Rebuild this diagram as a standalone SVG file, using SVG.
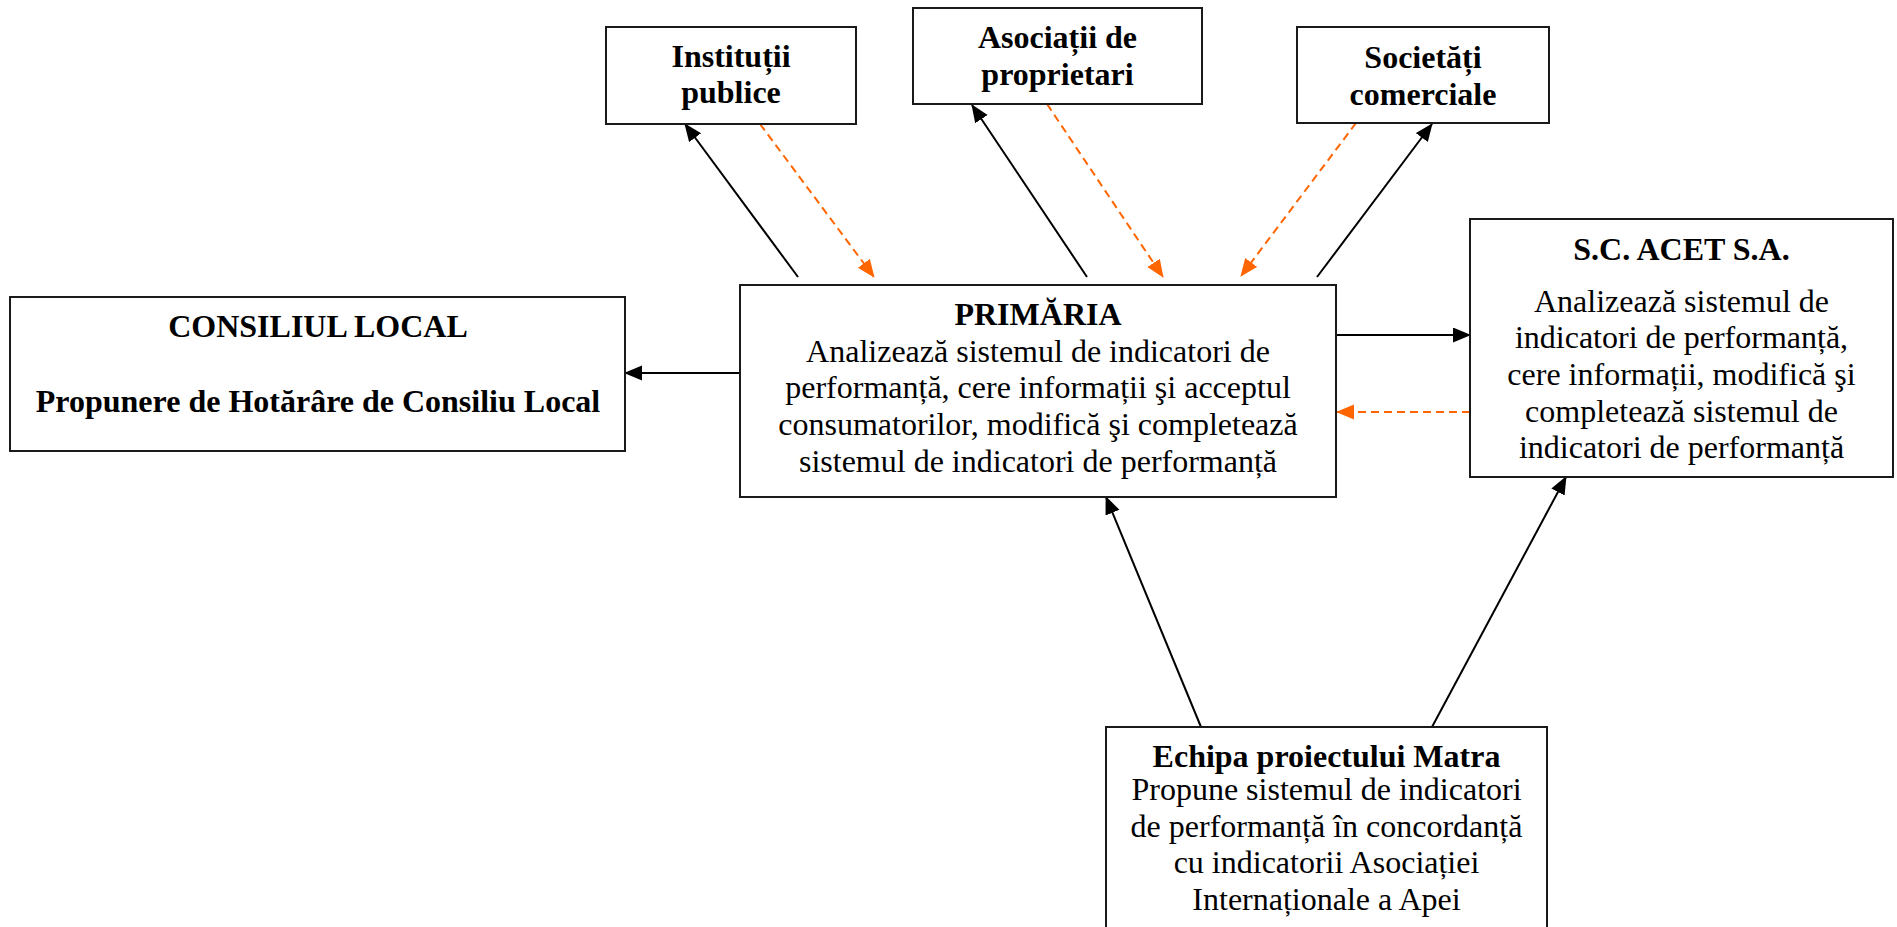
<svg xmlns="http://www.w3.org/2000/svg" width="1897" height="927" viewBox="0 0 1897 927">
<style>
.box{fill:#fff;stroke:#1a1a1a;stroke-width:2}
text{font-family:"Liberation Serif","Times New Roman",serif;font-size:32px;fill:#000;text-anchor:middle}
.b{font-weight:bold}
.blk{stroke:#000;stroke-width:2;fill:none}
.org{stroke:#FF6600;stroke-width:2;fill:none;stroke-dasharray:8 5}
</style>
<defs>
<marker id="ab" markerUnits="userSpaceOnUse" markerWidth="18" markerHeight="16" refX="17" refY="7.5" orient="auto">
<path d="M0,0 L18,7.5 L0,15 z" fill="#000"/>
</marker>
<marker id="ao" markerUnits="userSpaceOnUse" markerWidth="18" markerHeight="16" refX="17" refY="7.5" orient="auto">
<path d="M0,0 L18,7.5 L0,15 z" fill="#FF6600"/>
</marker>
</defs>
<rect width="1897" height="927" fill="#fff"/>
<g id="connectors">
<line class="blk" x1="798" y1="277" x2="685" y2="124" marker-end="url(#ab)"/>
<line class="org" x1="760" y1="124" x2="874" y2="277" marker-end="url(#ao)"/>
<line class="blk" x1="1087" y1="277" x2="972" y2="105" marker-end="url(#ab)"/>
<line class="org" x1="1047" y1="104" x2="1163" y2="277" marker-end="url(#ao)"/>
<line class="blk" x1="1317" y1="277" x2="1432" y2="124" marker-end="url(#ab)"/>
<line class="org" x1="1356" y1="123" x2="1241" y2="276" marker-end="url(#ao)"/>
<line class="blk" x1="740" y1="373" x2="625" y2="373" marker-end="url(#ab)"/>
<line class="blk" x1="1336" y1="335" x2="1470" y2="335" marker-end="url(#ab)"/>
<line class="org" x1="1470" y1="412" x2="1337" y2="412" marker-end="url(#ao)"/>
<line class="blk" x1="1201" y1="727" x2="1106" y2="497" marker-end="url(#ab)"/>
<line class="blk" x1="1432" y1="727" x2="1566" y2="477" marker-end="url(#ab)"/>
</g>
<g id="institutii">
<rect class="box" x="606" y="27" width="250" height="97"/>
<text class="b" x="731" y="67">Instituții</text>
<text class="b" x="731" y="103">publice</text>
</g>
<g id="asociatii">
<rect class="box" x="913" y="8" width="289" height="96"/>
<text class="b" x="1057.5" y="48">Asociații de</text>
<text class="b" x="1057.5" y="85">proprietari</text>
</g>
<g id="societati">
<rect class="box" x="1297" y="27" width="252" height="96"/>
<text class="b" x="1423" y="68">Societăți</text>
<text class="b" x="1423" y="105">comerciale</text>
</g>
<g id="consiliu">
<rect class="box" x="10" y="297" width="615" height="154"/>
<text class="b" x="318" y="337">CONSILIUL LOCAL</text>
<text class="b" x="318" y="412">Propunere de Hotărâre de Consiliu Local</text>
</g>
<g id="primaria">
<rect class="box" x="740" y="285" width="596" height="212"/>
<text class="b" x="1038" y="325">PRIMĂRIA</text>
<text x="1038" y="362">Analizează sistemul de indicatori de</text>
<text x="1038" y="398">performanță, cere informații şi acceptul</text>
<text x="1038" y="435">consumatorilor, modifică şi completează</text>
<text x="1038" y="472">sistemul de indicatori de performanță</text>
</g>
<g id="acet">
<rect class="box" x="1470" y="219" width="423" height="258"/>
<text class="b" x="1681.5" y="260">S.C. ACET S.A.</text>
<text x="1681.5" y="312">Analizează sistemul de</text>
<text x="1681.5" y="348">indicatori de performanță,</text>
<text x="1681.5" y="385">cere informații, modifică şi</text>
<text x="1681.5" y="422">completează sistemul de</text>
<text x="1681.5" y="458">indicatori de performanță</text>
</g>
<g id="echipa">
<rect class="box" x="1106" y="727" width="441" height="220"/>
<text class="b" x="1326.5" y="767">Echipa proiectului Matra</text>
<text x="1326.5" y="800">Propune sistemul de indicatori</text>
<text x="1326.5" y="837">de performanță în concordanță</text>
<text x="1326.5" y="873">cu indicatorii Asociației</text>
<text x="1326.5" y="910">Internaționale a Apei</text>
</g>
</svg>
